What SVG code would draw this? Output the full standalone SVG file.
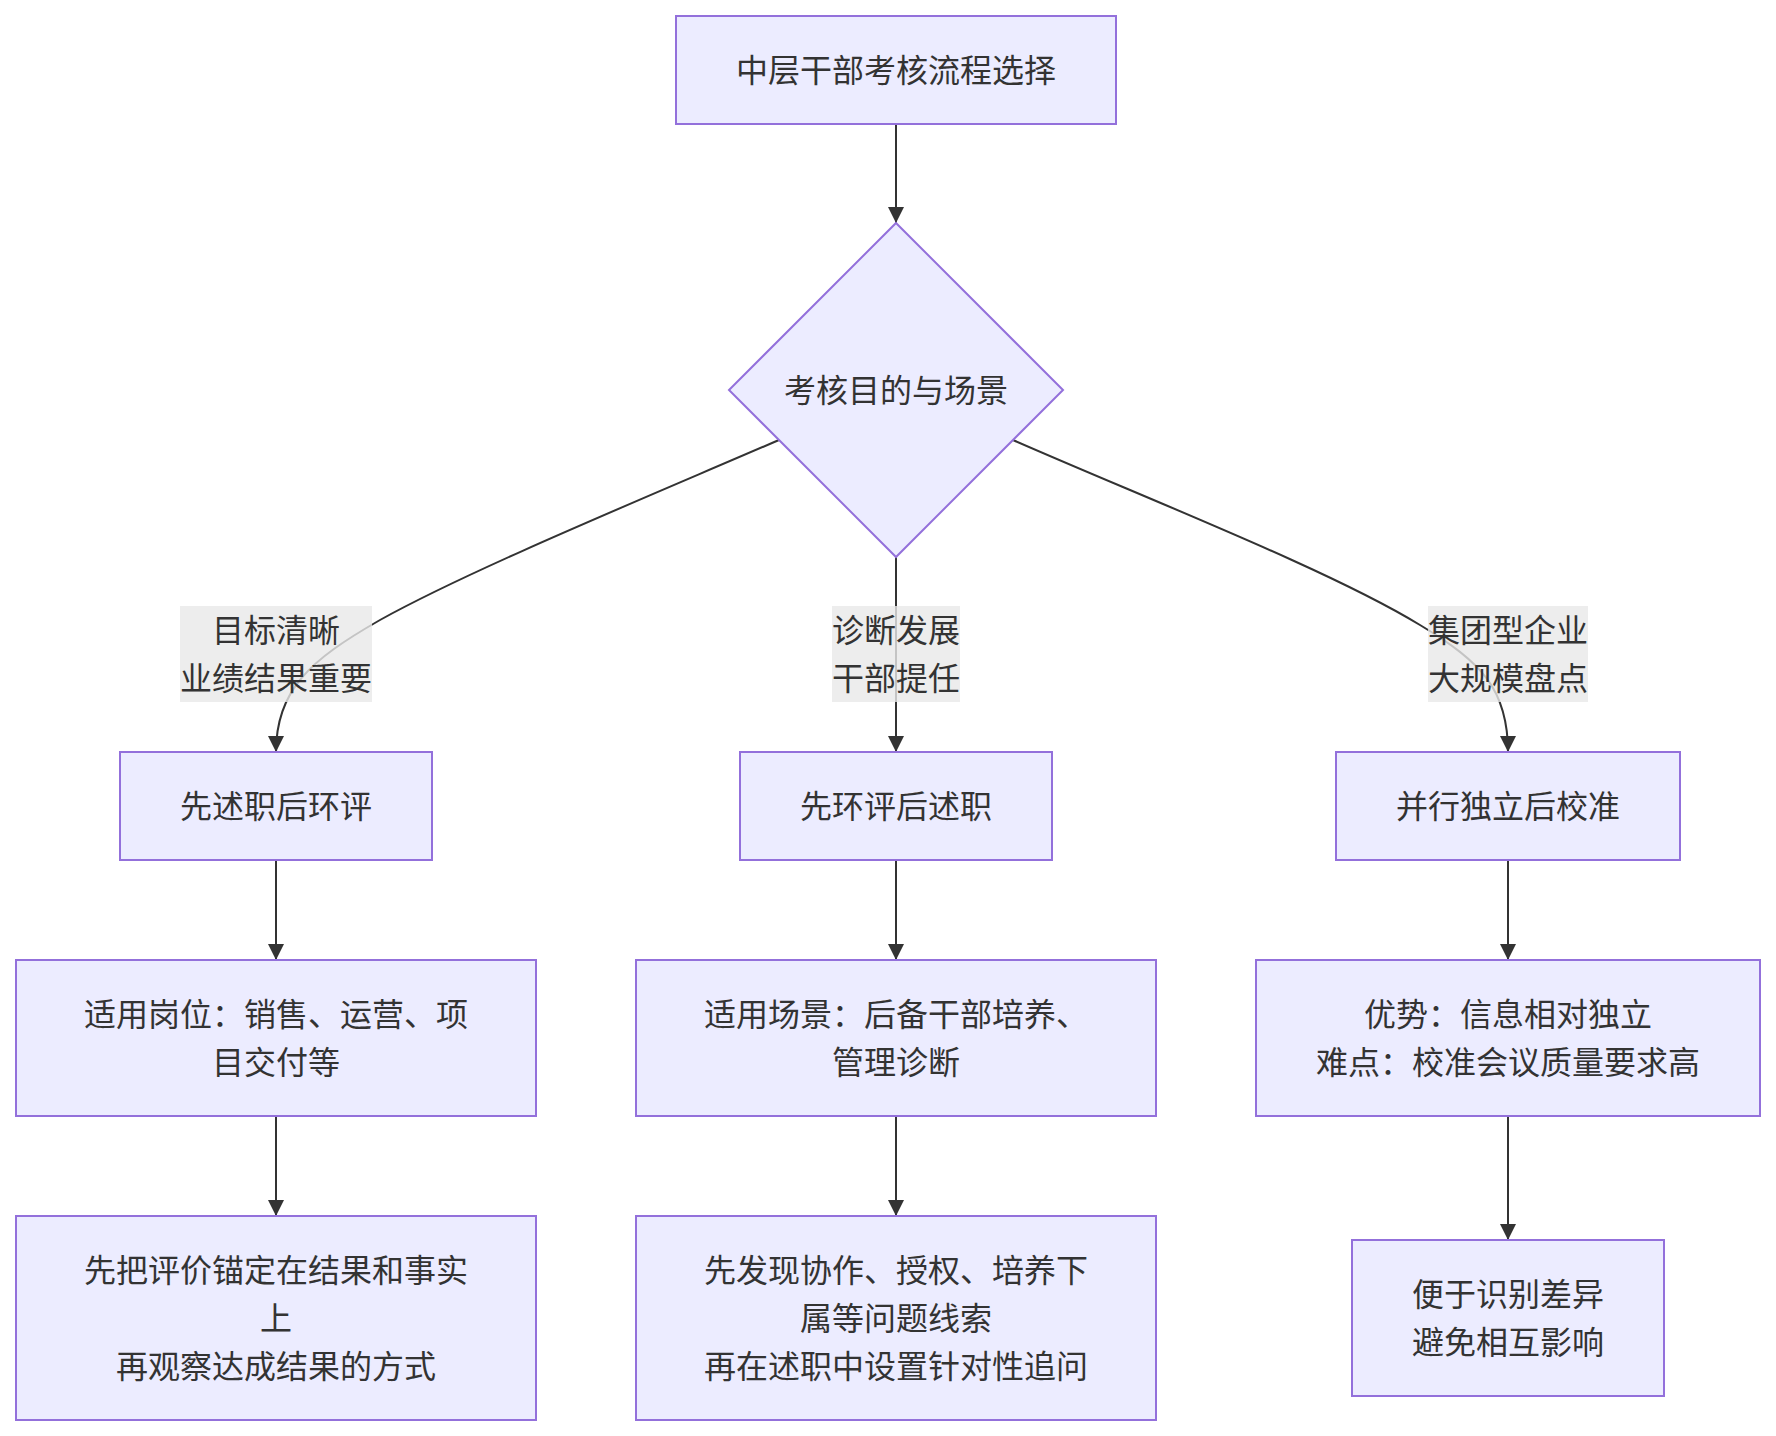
<svg xmlns="http://www.w3.org/2000/svg" width="1776" height="1436" viewBox="0 0 1776 1436">
<defs>
<style>
.node rect, .node polygon { fill: #ECECFF; stroke: #9370DB; stroke-width: 2; }
.node text, .lbl text { font-family: "Noto Sans CJK SC", "Noto Sans", sans-serif; font-size: 32px; fill: #333333; text-anchor: middle; dominant-baseline: central; }
.edge { fill: none; stroke: #333333; stroke-width: 2; marker-end: url(#arrow); }
.lbl rect { fill: #E8E8E8; fill-opacity: 0.8; }
</style>
<marker id="arrow" viewBox="0 0 10 10" refX="10" refY="5" markerUnits="userSpaceOnUse" markerWidth="16" markerHeight="16" orient="auto">
<path d="M0,0 L10,5 L0,10 z" fill="#333333"/>
</marker>
</defs>
<rect width="1776" height="1436" fill="#ffffff"/>
<g id="connectors">
<path class="edge" d="M896,124 L896,223"/>
<path class="edge" d="M779,440 C640,500 470,570 380,620 C310,660 276,690 276,752"/>
<path class="edge" d="M896,557 L896,752"/>
<path class="edge" d="M1013,440 C1150,500 1330,570 1420,625 C1482,662 1508,690 1508,752"/>
<path class="edge" d="M276,860 L276,960"/>
<path class="edge" d="M896,860 L896,960"/>
<path class="edge" d="M1508,860 L1508,960"/>
<path class="edge" d="M276,1116 L276,1216"/>
<path class="edge" d="M896,1116 L896,1216"/>
<path class="edge" d="M1508,1116 L1508,1240"/>
</g>
<g id="edge-labels">
<g class="lbl" id="label-left"><rect x="180" y="606" width="192" height="96"/><text x="276" y="628">目标清晰</text><text x="276" y="676">业绩结果重要</text></g>
<g class="lbl" id="label-mid"><rect x="832" y="606" width="128" height="96"/><text x="896" y="628">诊断发展</text><text x="896" y="676">干部提任</text></g>
<g class="lbl" id="label-right"><rect x="1428" y="606" width="160" height="96"/><text x="1508" y="628">集团型企业</text><text x="1508" y="676">大规模盘点</text></g>
</g>
<g class="node" id="start"><rect x="676" y="16" width="440" height="108"/><text x="896" y="68">中层干部考核流程选择</text></g>
<g class="node" id="decision"><polygon points="896,223 1063,390 896,557 729,390"/><text x="896" y="388">考核目的与场景</text></g>
<g class="node" id="a1"><rect x="120" y="752" width="312" height="108"/><text x="276" y="804">先述职后环评</text></g>
<g class="node" id="b1"><rect x="740" y="752" width="312" height="108"/><text x="896" y="804">先环评后述职</text></g>
<g class="node" id="c1"><rect x="1336" y="752" width="344" height="108"/><text x="1508" y="804">并行独立后校准</text></g>
<g class="node" id="a2"><rect x="16" y="960" width="520" height="156"/><text x="276" y="1012">适用岗位：销售、运营、项</text><text x="276" y="1060">目交付等</text></g>
<g class="node" id="b2"><rect x="636" y="960" width="520" height="156"/><text x="896" y="1012">适用场景：后备干部培养、</text><text x="896" y="1060">管理诊断</text></g>
<g class="node" id="c2"><rect x="1256" y="960" width="504" height="156"/><text x="1508" y="1012">优势：信息相对独立</text><text x="1508" y="1060">难点：校准会议质量要求高</text></g>
<g class="node" id="a3"><rect x="16" y="1216" width="520" height="204"/><text x="276" y="1268">先把评价锚定在结果和事实</text><text x="276" y="1316">上</text><text x="276" y="1364">再观察达成结果的方式</text></g>
<g class="node" id="b3"><rect x="636" y="1216" width="520" height="204"/><text x="896" y="1268">先发现协作、授权、培养下</text><text x="896" y="1316">属等问题线索</text><text x="896" y="1364">再在述职中设置针对性追问</text></g>
<g class="node" id="c3"><rect x="1352" y="1240" width="312" height="156"/><text x="1508" y="1292">便于识别差异</text><text x="1508" y="1340">避免相互影响</text></g>
</svg>
